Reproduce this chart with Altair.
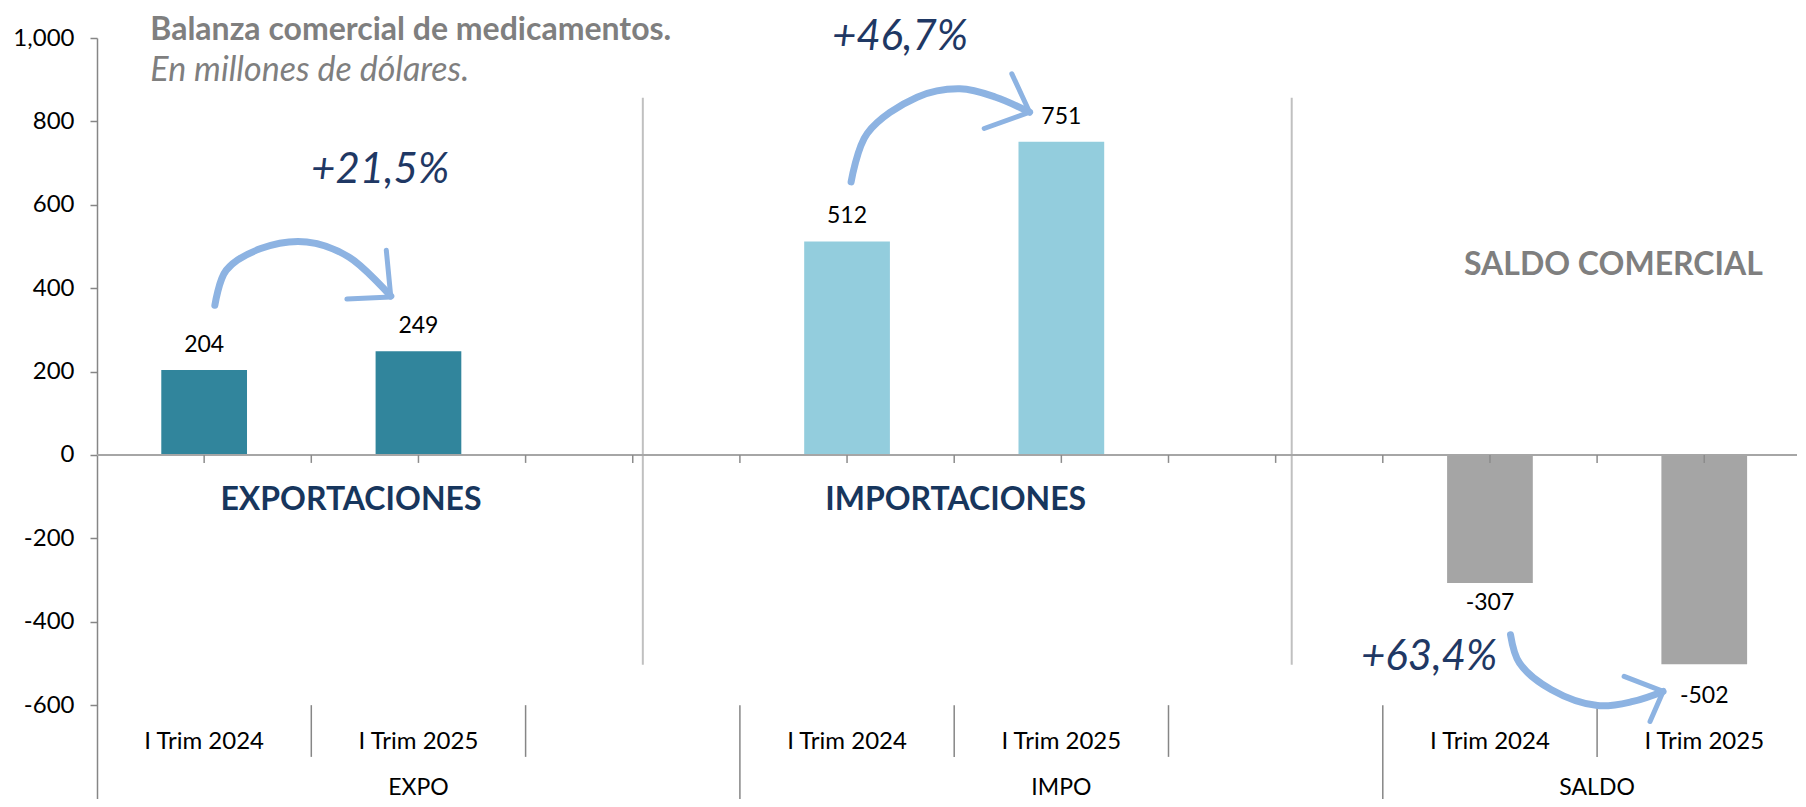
import altair as alt
import pandas as pd

# ---------------- data ----------------
groups = ["EXPO", "EXPO", "IMPO", "IMPO", "SALDO", "SALDO"]
periods = ["I Trim 2024", "I Trim 2025", "I Trim 2024", "I Trim 2025", "I Trim 2024", "I Trim 2025"]
values = [204, 249, 512, 751, -307, -502]
slots = [0, 1, 3, 4, 6, 7]            # category slot (third slot of each group is empty)
group_names = ["EXPO", "IMPO", "SALDO"]
group_centers = [1.5, 4.5, 7.0]
group_colors = ["#31859c", "#93cddd", "#a5a5a5"]
section_titles = ["EXPORTACIONES", "IMPORTACIONES", "SALDO COMERCIAL"]
changes = ["+21,5%", "+46,7%", "+63,4%"]
y_ticks = [-600, -400, -200, 0, 200, 400, 600, 800, 1000]
title_text = "Balanza comercial de medicamentos."
subtitle_text = "En millones de dólares."

# ---------------- layout ----------------
W, H = 1700, 761
SLOT_PX = 214.3
XMAX = W / SLOT_PX
YMIN, YMAX = -825, 1000
FONT = "Lato"
NAVY = "#1f3864"
GRAY = "#7f7f7f"
ARROW = "#8db3e2"

xs = alt.Scale(domain=[0, XMAX], nice=False, zero=False)
ys = alt.Scale(domain=[YMIN, YMAX], nice=False, zero=False)

yaxis = alt.Axis(values=y_ticks, grid=False, labelFont=FONT, labelFontSize=24,
                 labelExpr="replace(format(datum.value, ',.0f'), '\u2212', '-')",
                 labelColor="#000000", domainColor="#868686", domainWidth=1.5,
                 tickColor="#868686", tickWidth=1.5, tickSize=7, labelPadding=16, title=None)


def X(f):
    return alt.X(f, type="quantitative", scale=xs, axis=None)


def X2(f):
    return alt.X2(f)


def Y(f):
    return alt.Y(f, type="quantitative", scale=ys, axis=yaxis)


bars_df = pd.DataFrame({"group": groups, "period": periods, "value": values, "slot": slots})
bars_df["x0"] = bars_df["slot"] + 0.3
bars_df["x1"] = bars_df["slot"] + 0.7
bars_df["xc"] = bars_df["slot"] + 0.5
bars_df["zero"] = 0
bars_df["label"] = bars_df["value"].astype(str)

# decorative vertical separators in the plot
sep_df = pd.DataFrame({"x": [2.547, 5.575], "y": [857, 857], "y2": [-503, -503]})
seps = alt.Chart(sep_df).mark_rule(color="#c0c0c0", strokeWidth=2).encode(
    x=X("x"), y=Y("y"), y2=alt.Y2("y2"))

bars = alt.Chart(bars_df).mark_bar().encode(
    x=X("x0"), x2=X2("x1"), y=Y("value"), y2=alt.Y2("zero"),
    color=alt.Color("group:N", scale=alt.Scale(domain=group_names, range=group_colors), legend=None))

zero_df = pd.DataFrame({"x": [0], "x2": [XMAX], "y": [0]})
zero = alt.Chart(zero_df).mark_rule(color="#a6a6a6", strokeWidth=2).encode(
    x=X("x"), x2=X2("x2"), y=Y("y"))

ticks_df = pd.DataFrame({"x": [k * 0.5 for k in range(1, 16)]})
ticks_df["y"] = 0
ticks_df["y2"] = -19
zticks = alt.Chart(ticks_df).mark_rule(color="#8c8c8c", strokeWidth=1.5).encode(
    x=X("x"), y=Y("y"), y2=alt.Y2("y2"))

# category axis at the bottom
slot_lines = pd.DataFrame({"x": [1, 2, 4, 5, 7]})
slot_lines["y"] = -600
slot_lines["y2"] = -724
grp_lines = pd.DataFrame({"x": [3, 6]})
grp_lines["y"] = -600
grp_lines["y2"] = YMIN
cat_rules = alt.Chart(pd.concat([slot_lines, grp_lines])).mark_rule(color="#868686", strokeWidth=1.5).encode(
    x=X("x"), y=Y("y"), y2=alt.Y2("y2"))

cat_df = bars_df[["xc", "period"]].copy()
cat_df["y"] = -706
cat_labels = alt.Chart(cat_df).mark_text(font=FONT, fontSize=24, color="#000000", baseline="alphabetic").encode(
    x=X("xc"), y=Y("y"), text="period:N")

grp_df = pd.DataFrame({"x": group_centers, "name": group_names})
grp_df["y"] = -815
grp_labels = alt.Chart(grp_df).mark_text(font=FONT, fontSize=23, color="#000000", baseline="alphabetic").encode(
    x=X("x"), y=Y("y"), text="name:N")

# value labels
vlab_pos = alt.Chart(bars_df).transform_filter("datum.value >= 0").mark_text(
    font=FONT, fontSize=23, color="#000000", baseline="alphabetic", dy=-18).encode(
    x=X("xc"), y=Y("value"), text="label:N")
vlab_neg1 = alt.Chart(bars_df).transform_filter("datum.value < 0 && datum.value > -400").mark_text(
    font=FONT, fontSize=23, color="#000000", baseline="alphabetic", dy=27).encode(
    x=X("xc"), y=Y("value"), text="label:N")
vlab_neg2 = alt.Chart(bars_df).transform_filter("datum.value <= -400").mark_text(
    font=FONT, fontSize=23, color="#000000", baseline="alphabetic", dy=39).encode(
    x=X("xc"), y=Y("value"), text="label:N")

# titles
title_df = pd.DataFrame({"x": [0.249], "y": [996], "t": [title_text]})
title = alt.Chart(title_df).mark_text(font=FONT, fontSize=32, fontWeight="bold", color=GRAY,
                                      align="left", baseline="alphabetic").encode(
    x=X("x"), y=Y("y"), text="t:N")
sub_df = pd.DataFrame({"x": [0.249], "y": [897], "t": [subtitle_text]})
subtitle = alt.Chart(sub_df).mark_text(font=FONT, fontSize=34, fontStyle="italic", color=GRAY,
                                       align="left", baseline="alphabetic").encode(
    x=X("x"), y=Y("y"), text="t:N")

# section titles
sec_df = pd.DataFrame({"x": [1.185, 4.007], "y": [-133, -133], "t": section_titles[:2]})
sections = alt.Chart(sec_df).mark_text(font=FONT, fontSize=32, fontWeight="bold", color="#17365d",
                                       baseline="alphabetic").encode(
    x=X("x"), y=Y("y"), text="t:N")
saldo_df = pd.DataFrame({"x": [7.076], "y": [432], "t": section_titles[2:]})
saldo_title = alt.Chart(saldo_df).mark_text(font=FONT, fontSize=32, fontWeight="bold", color=GRAY,
                                            baseline="alphabetic").encode(
    x=X("x"), y=Y("y"), text="t:N")

# percentage changes
pct_df = pd.DataFrame({"x": [1.321, 3.747, 6.216], "y": [652, 972, -516], "t": changes})
pcts = alt.Chart(pct_df).mark_text(font=FONT, fontSize=42, fontStyle="italic", color=NAVY,
                                   baseline="alphabetic").encode(
    x=X("x"), y=Y("y"), text="t:N")

# curved arrows (decoration), in slot / value units
curve_x = [
    [0.550, 0.603, 0.764, 0.979, 1.175, 1.371],
    [3.519, 3.594, 3.827, 4.027, 4.194, 4.352],
    [6.596, 6.638, 6.787, 7.002, 7.167, 7.308],
]
curve_y = [
    [359, 443, 495, 511, 475, 381],
    [655, 771, 858, 878, 858, 822],
    [-431, -499, -563, -601, -591, -567],
]
head_x = [
    [1.350, 1.371, 1.166],
    [4.269, 4.352, 4.140],
    [7.126, 7.308, 7.247],
]
head_y = [
    [491, 379, 374],
    [914, 822, 783],
    [-531, -567, -639],
]
rows = []
for a in range(3):
    for i, (cx, cy) in enumerate(zip(curve_x[a], curve_y[a])):
        rows.append({"arrow": a, "i": i, "x": cx, "y": cy})
curve_df = pd.DataFrame(rows)
rows = []
for a in range(3):
    for i, (hx, hy) in enumerate(zip(head_x[a], head_y[a])):
        rows.append({"arrow": a, "i": i, "x": hx, "y": hy})
head_df = pd.DataFrame(rows)

curves = alt.Chart(curve_df).mark_line(color=ARROW, strokeWidth=7, strokeCap="round",
                                       interpolate="catmull-rom").encode(
    x=X("x"), y=Y("y"), detail="arrow:N", order="i:Q")
heads = alt.Chart(head_df).mark_line(color=ARROW, strokeWidth=5, strokeCap="round",
                                     strokeJoin="round").encode(
    x=X("x"), y=Y("y"), detail="arrow:N", order="i:Q")

chart = alt.layer(
    seps, bars, zero, zticks, cat_rules, cat_labels, grp_labels,
    vlab_pos, vlab_neg1, vlab_neg2, title, subtitle, sections, saldo_title, pcts, curves, heads
).properties(
    width=W, height=H,
    padding={"left": 89, "top": 30, "right": 0, "bottom": 0},
    autosize=alt.AutoSizeParams(type="none"),
).configure_view(stroke=None)

chart.save("out.html", embed_options={"renderer": "svg", "actions": False})
